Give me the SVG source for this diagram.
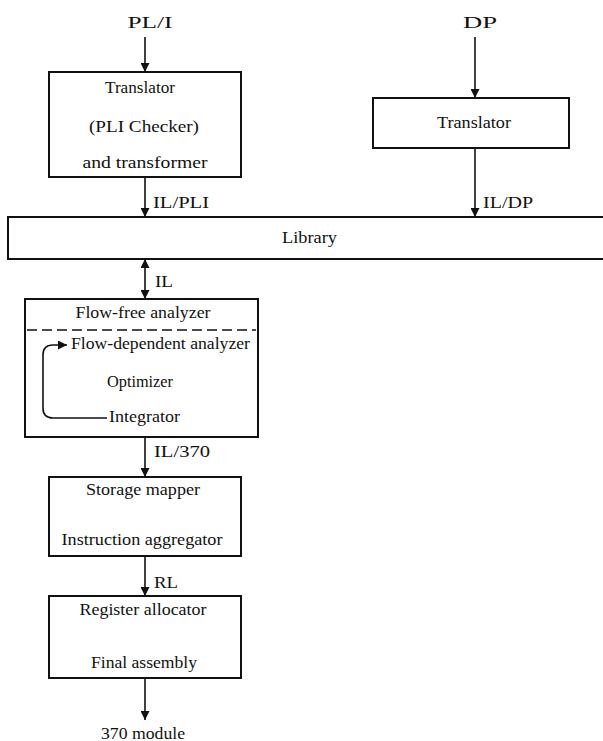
<svg xmlns="http://www.w3.org/2000/svg" width="603" height="741" viewBox="0 0 603 741">
<defs>
<marker id="ah" viewBox="0 0 10 10" refX="10" refY="5" markerWidth="12" markerHeight="9" markerUnits="userSpaceOnUse" orient="auto-start-reverse">
<path d="M0,0 L10,5 L0,10 z" fill="#111"/>
</marker>
<style>
text{font-family:"Liberation Serif","Times New Roman",serif;font-size:16px;fill:#111}
.c{text-anchor:middle}
.box{fill:none;stroke:#111;stroke-width:2}
.ln{fill:none;stroke:#111;stroke-width:1.6}
</style>
</defs>
<rect width="603" height="741" fill="#fff"/>
<g id="connectors">
<line class="ln" x1="145" y1="37" x2="145" y2="72" marker-end="url(#ah)"/>
<line class="ln" x1="145" y1="177" x2="145" y2="217" marker-end="url(#ah)"/>
<line class="ln" x1="475" y1="37" x2="475" y2="98" marker-end="url(#ah)"/>
<line class="ln" x1="475" y1="148" x2="475" y2="217" marker-end="url(#ah)"/>
<line class="ln" x1="145" y1="259" x2="145" y2="299" marker-start="url(#ah)" marker-end="url(#ah)"/>
<line class="ln" x1="145" y1="437" x2="145" y2="477" marker-end="url(#ah)"/>
<line class="ln" x1="145" y1="556" x2="145" y2="596" marker-end="url(#ah)"/>
<line class="ln" x1="145" y1="678" x2="145" y2="720" marker-end="url(#ah)"/>
<path class="ln" d="M107,418 H53 Q43,418 43,408 V355 Q43,345 53,345 H67" marker-end="url(#ah)"/>
<text x="153" y="208" textLength="56" lengthAdjust="spacingAndGlyphs">IL/PLI</text>
<text x="483" y="208" textLength="50" lengthAdjust="spacingAndGlyphs">IL/DP</text>
<text x="155" y="287" textLength="18" lengthAdjust="spacingAndGlyphs">IL</text>
<text x="154" y="457" textLength="56" lengthAdjust="spacingAndGlyphs">IL/370</text>
<text x="154" y="588" textLength="24" lengthAdjust="spacingAndGlyphs">RL</text>
</g>
<g id="in-pli"><text class="c" x="150" y="28" textLength="45" lengthAdjust="spacingAndGlyphs">PL/I</text></g>
<g id="in-dp"><text class="c" x="480" y="28" textLength="34" lengthAdjust="spacingAndGlyphs">DP</text></g>
<g id="translator1">
<rect class="box" x="49" y="72" width="192" height="105"/>
<text class="c" x="140" y="93" textLength="70" lengthAdjust="spacingAndGlyphs">Translator</text>
<text class="c" x="144" y="132" textLength="110" lengthAdjust="spacingAndGlyphs">(PLI Checker)</text>
<text class="c" x="145" y="168" textLength="125" lengthAdjust="spacingAndGlyphs">and transformer</text>
</g>
<g id="translator2">
<rect class="box" x="373" y="98" width="196" height="50"/>
<text class="c" x="474" y="128" textLength="74" lengthAdjust="spacingAndGlyphs">Translator</text>
</g>
<g id="library">
<rect class="box" x="8" y="217" width="600" height="42"/>
<text x="282" y="243" textLength="55" lengthAdjust="spacingAndGlyphs">Library</text>
</g>
<g id="analyzer">
<rect class="box" x="25" y="299" width="233" height="138"/>
<text class="c" x="143" y="318" textLength="135" lengthAdjust="spacingAndGlyphs">Flow-free analyzer</text>
<line x1="27" y1="330" x2="256" y2="330" stroke="#111" stroke-width="1.5" stroke-dasharray="10,5"/>
<text x="71" y="349" textLength="179" lengthAdjust="spacingAndGlyphs">Flow-dependent analyzer</text>
<text x="107" y="387" textLength="66" lengthAdjust="spacingAndGlyphs">Optimizer</text>
<text x="109" y="422" textLength="71" lengthAdjust="spacingAndGlyphs">Integrator</text>
</g>
<g id="storage">
<rect class="box" x="49" y="477" width="192" height="79"/>
<text class="c" x="143" y="495" textLength="114" lengthAdjust="spacingAndGlyphs">Storage mapper</text>
<text class="c" x="142" y="545" textLength="161" lengthAdjust="spacingAndGlyphs">Instruction aggregator</text>
</g>
<g id="register">
<rect class="box" x="49" y="596" width="192" height="82"/>
<text class="c" x="143" y="615" textLength="127" lengthAdjust="spacingAndGlyphs">Register allocator</text>
<text class="c" x="144" y="668" textLength="106" lengthAdjust="spacingAndGlyphs">Final assembly</text>
</g>
<g id="out"><text class="c" x="143" y="739" textLength="84" lengthAdjust="spacingAndGlyphs">370 module</text></g>
</svg>
